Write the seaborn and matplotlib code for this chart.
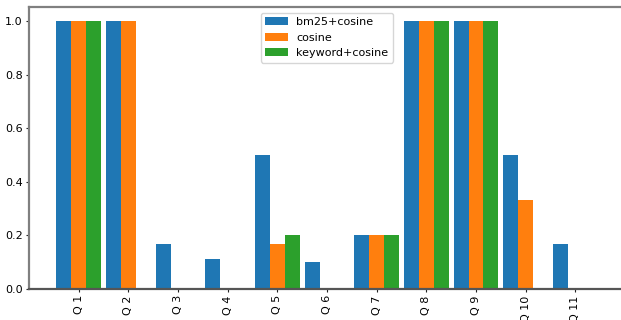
import pandas as pd
import matplotlib.pyplot as plt
import seaborn as sns

# Datos
queries = ["Q 1", "Q 2", "Q 3", "Q 4", "Q 5", "Q 6", "Q 7", "Q 8", "Q 9", "Q 10", "Q 11"]
bm25_cosine = [1.0, 1.0, 0.167, 0.111, 0.5, 0.1, 0.2, 1.0, 1.0, 0.5, 0.167]
cosine = [1.0, 1.0, 0.0, 0.0, 0.167, 0.0, 0.2, 1.0, 1.0, 0.333, 0.0]
keyword_cosine = [1.0, 0.0, 0.0, 0.0, 0.2, 0.0, 0.2, 1.0, 1.0, 0.0, 0.0]
methods = ["bm25+cosine", "cosine", "keyword+cosine"]
COLORS = ["#1f77b4", "#ff7f0e", "#2ca02c"]

df = pd.DataFrame({
    "query": queries * 3,
    "method": [methods[0]] * 11 + [methods[1]] * 11 + [methods[2]] * 11,
    "score": bm25_cosine + cosine + keyword_cosine,
})

sns.set_style("white")
plt.rcParams['font.family'] = ['DejaVu Sans']

fig = plt.figure(figsize=(6.21, 3.2), dpi=100)
ax = fig.add_axes([29 / 621, 31 / 320, 596 / 621, 282 / 320])

sns.barplot(data=df, x="query", y="score", hue="method", order=queries,
            hue_order=methods, palette=COLORS, width=0.9, saturation=1,
            linewidth=0, ax=ax)

ax.set_xlim(-1, 11)
ax.set_ylim(0, 1.053)
ax.set_xlabel("")
ax.set_ylabel("")
ax.tick_params(axis='x', labelrotation=90, length=2.5, width=0.8, labelsize=8, pad=2)
ax.tick_params(axis='y', length=2.5, width=0.8, labelsize=8, pad=2)
ax.tick_params(axis='both', which='both', bottom=True, left=True,
               color='#222222', labelcolor='black')
for s in ax.spines.values():
    s.set_color('grey')
    s.set_linewidth(1.6)
ax.spines['bottom'].set_color('#555555')

leg = ax.legend(loc='upper center', fontsize=8, frameon=True, handlelength=2.0,
                borderaxespad=0.5)
leg.get_frame().set_edgecolor('#cccccc')
leg.set_title(None)
for t in leg.get_texts():
    t.set_color('black')

fig.savefig("out.png", dpi=100, facecolor='white')
